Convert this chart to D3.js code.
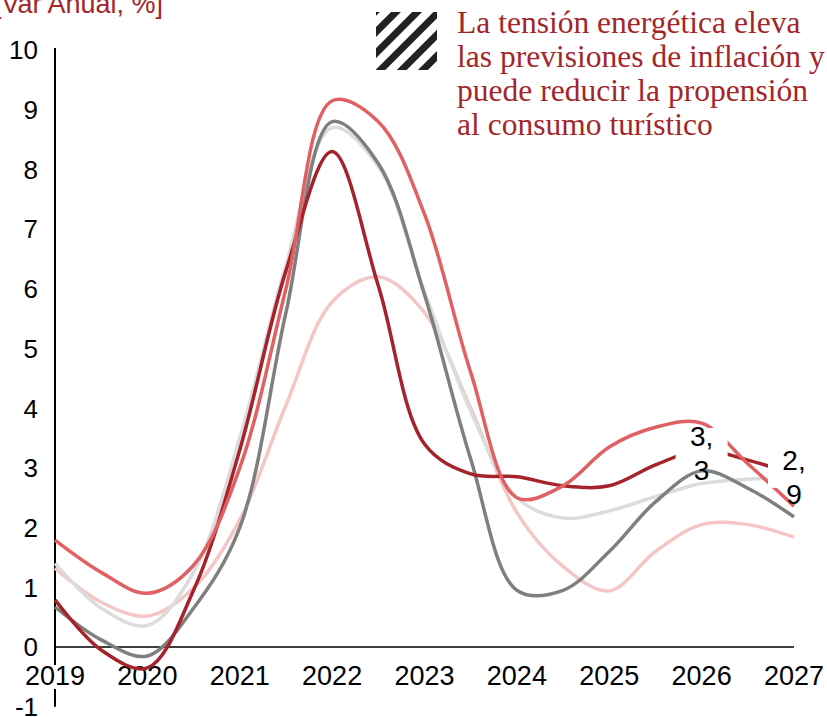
<!DOCTYPE html>
<html><head><meta charset="utf-8">
<script src="https://cdn.jsdelivr.net/npm/d3@7"></script>
<style>body{margin:0;background:#fff;} svg{display:block;}</style>
</head><body>
<svg id="chart" width="827" height="717"></svg>
<script>
// ---- data ----
const years = [2019, 2019.5, 2020, 2020.5, 2021, 2021.5, 2022, 2022.5, 2023, 2023.5, 2024, 2024.5, 2025, 2025.5, 2026, 2026.5, 2027];
const serieOscuro = [0.79, -0.05, -0.35, 0.95, 3.3, 6.3, 8.3, 6.05, 3.4, 2.9, 2.85, 2.7, 2.7, 3.05, 3.3, 3.13, 2.9];
const serieRojo   = [1.79, 1.25, 0.9, 1.37, 3.0, 6.0, 9.15, 8.8, 7.25, 4.6, 2.5, 2.7, 3.35, 3.68, 3.75, 3.07, 2.36];
const serieGris   = [0.67, 0.12, -0.15, 0.65, 2.0, 5.6, 8.8, 8.1, 5.9, 3.15, 0.95, 0.95, 1.6, 2.43, 2.95, 2.66, 2.18];
const serieGrisClaro = [1.4, 0.65, 0.36, 1.25, 3.5, 6.4, 8.7, 8.05, 5.95, 3.95, 2.5, 2.16, 2.28, 2.52, 2.74, 2.81, 2.83];
const serieRosa   = [1.32, 0.75, 0.52, 0.99, 2.13, 4.05, 5.78, 6.2, 5.6, 4.0, 2.25, 1.35, 0.94, 1.6, 2.05, 2.05, 1.84];
const xTickYears = [2019, 2020, 2021, 2022, 2023, 2024, 2025, 2026, 2027];
const yTickValues = [-1, 0, 1, 2, 3, 4, 5, 6, 7, 8, 9, 10];
const dataLabels = [
  {year: 2026, value: 3.3, lines: ["3,", "3"]},
  {year: 2027, value: 2.9, lines: ["2,", "9"]}
];
const annotationLines = [
  "La tensión energética eleva",
  "las previsiones de inflación y",
  "puede reducir la propensión",
  "al consumo turístico"
];
const unitLabel = "[Var Anual, %]";

const seriesDefs = [
  {values: serieRosa, color: "#F4C6C6"},
  {values: serieGrisClaro, color: "#DCDCDC"},
  {values: serieGris, color: "#7F7F7F"},
  {values: serieOscuro, color: "#A5232A"},
  {values: serieRojo, color: "#E06063"}
];

// ---- chart ----
const svg = d3.select("#chart");
const x = d3.scaleLinear().domain([2019, 2027]).range([55, 794]);
const y = d3.scaleLinear().domain([-1, 10]).range([706.7, 50]);
const textColor = "#A3262A";

// pattern for icon
const defs = svg.append("defs");
const pat = defs.append("pattern").attr("id", "hatch").attr("patternUnits", "userSpaceOnUse")
  .attr("width", 15).attr("height", 15).attr("patternTransform", "rotate(45)");
pat.append("rect").attr("x", 0).attr("y", 0).attr("width", 7).attr("height", 15).attr("fill", "#222");

// unit label (cut at top, as in the reference)
svg.append("text").attr("x", -6).attr("y", 13)
  .attr("font-family", "Liberation Sans, Arial, sans-serif").attr("font-size", 27)
  .attr("fill", textColor).text(unitLabel);

// y axis line
svg.append("line").attr("x1", 55).attr("x2", 55).attr("y1", y(10) - 2).attr("y2", y(-1))
  .attr("stroke", "#000").attr("stroke-width", 2);
// zero line
svg.append("line").attr("x1", x(2019)).attr("x2", x(2027)).attr("y1", y(0)).attr("y2", y(0))
  .attr("stroke", "#000").attr("stroke-width", 1.5);

// y tick labels
svg.append("g").selectAll("text").data(yTickValues).join("text")
  .attr("x", 38).attr("y", d => y(d)).attr("dy", "0.36em")
  .attr("text-anchor", "end")
  .attr("font-family", "Liberation Sans, Arial, sans-serif").attr("font-size", 26)
  .attr("fill", "#000").text(d => d);

// x tick labels (white bg behind the first, over the axis line)
const xg = svg.append("g");
xTickYears.forEach(yr => {
  const t = xg.append("text").attr("x", x(yr)).attr("y", 685)
    .attr("text-anchor", "middle")
    .attr("font-family", "Liberation Sans, Arial, sans-serif").attr("font-size", 27)
    .attr("fill", "#000").text(yr);
  if (yr === 2019) {
    const b = t.node().getBBox();
    xg.insert("rect", "text").attr("x", b.x).attr("y", b.y + 4).attr("width", b.width).attr("height", b.height - 6).attr("fill", "#fff");
  }
});

// series
const line = d3.line().x((d, i) => x(years[i])).y(d => y(d)).curve(d3.curveCatmullRom.alpha(0.5));
svg.append("g").selectAll("path").data(seriesDefs).join("path")
  .attr("d", d => line(d.values))
  .attr("fill", "none").attr("stroke", d => d.color).attr("stroke-width", 3.5)
  .attr("stroke-linejoin", "round").attr("stroke-linecap", "butt");

// data labels
const lg = svg.append("g");
dataLabels.forEach(l => {
  const cx = x(l.year), cy = y(l.value);
  lg.append("rect").attr("x", cx - 26).attr("y", cy - 22).attr("width", 52).attr("height", 36).attr("fill", "#fff");
  l.lines.forEach((s, i) => {
    lg.append("text").attr("x", cx).attr("y", cy - 4 + i * 34)
      .attr("text-anchor", "middle")
      .attr("font-family", "Liberation Sans, Arial, sans-serif").attr("font-size", 28)
      .attr("fill", "#000").text(s);
  });
});

// icon
svg.append("rect").attr("x", 376).attr("y", 12).attr("width", 61).attr("height", 58).attr("fill", "url(#hatch)");

// annotation
const ag = svg.append("g");
let fs = 28;
const tmp = ag.append("text").attr("font-family", "Liberation Serif, Times New Roman, serif").attr("font-size", fs).text(annotationLines[1]);
const w = tmp.node().getComputedTextLength();
tmp.remove();
fs = fs * 368 / w;
annotationLines.forEach((s, i) => {
  ag.append("text").attr("x", 457).attr("y", 33 + i * 34)
    .attr("font-family", "Liberation Serif, Times New Roman, serif").attr("font-size", fs)
    .attr("fill", textColor).text(s);
});
</script>
</body></html>
